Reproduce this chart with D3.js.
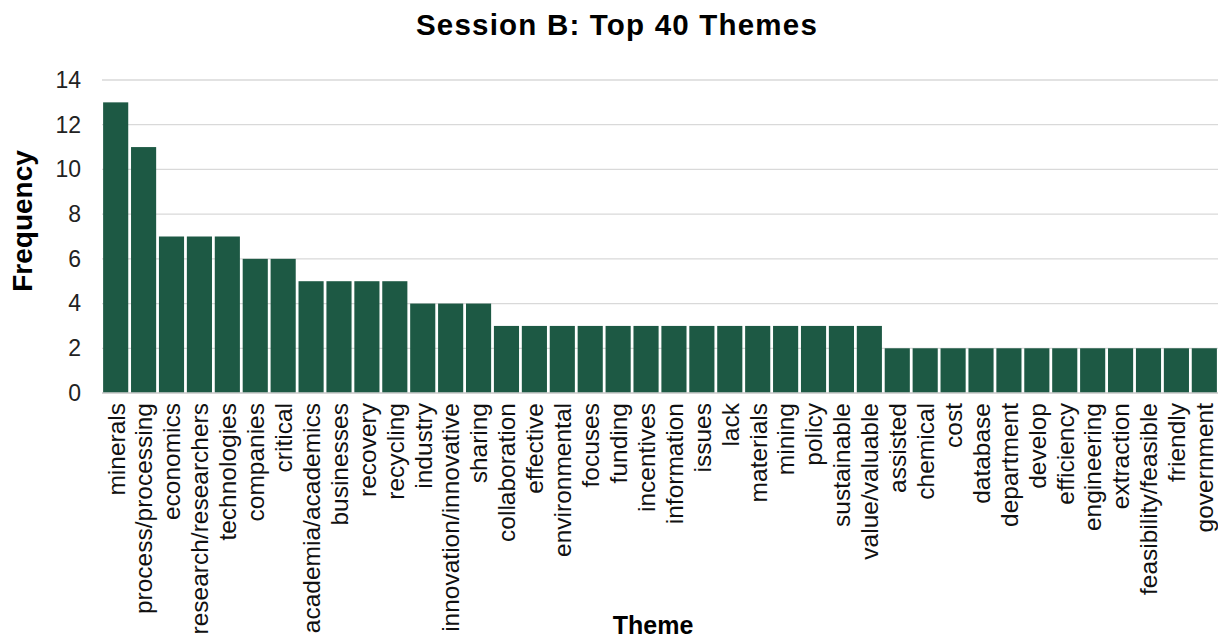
<!DOCTYPE html>
<html>
<head>
<meta charset="utf-8">
<script src="https://cdn.jsdelivr.net/npm/d3@7"></script>
<style>
  html, body { margin: 0; padding: 0; background: #fff; }
  svg { display: block; font-family: "Liberation Sans", Arial, sans-serif; }
</style>
</head>
<body>
<svg id="chart" width="1218" height="640"></svg>
<script>
// Theme names in ranked order
const themes = [
  "minerals", "process/processing", "economics", "research/researchers", "technologies",
  "companies", "critical", "academia/academics", "businesses", "recovery",
  "recycling", "industry", "innovation/innovative", "sharing", "collaboration",
  "effective", "environmental", "focuses", "funding", "incentives",
  "information", "issues", "lack", "materials", "mining",
  "policy", "sustainable", "value/valuable", "assisted", "chemical",
  "cost", "database", "department", "develop", "efficiency",
  "engineering", "extraction", "feasibility/feasible", "friendly", "government"
];

// How often each theme came up
const frequencies = [
  13, 11, 7, 7, 7,
  6, 6, 5, 5, 5,
  5, 4, 4, 4, 3,
  3, 3, 3, 3, 3,
  3, 3, 3, 3, 3,
  3, 3, 3, 2, 2,
  2, 2, 2, 2, 2,
  2, 2, 2, 2, 2
];

const yTicks = [0, 2, 4, 6, 8, 10, 12, 14];

const data = themes.map((t, i) => ({ theme: t, value: frequencies[i] }));

const svg = d3.select("#chart");
const plotLeft = 102, plotRight = 1218, plotTop = 80, plotBottom = 393;

const x = d3.scaleBand()
  .domain(themes)
  .range([plotLeft, plotRight])
  .paddingInner(0.1)
  .paddingOuter(0.04);

const y = d3.scaleLinear()
  .domain([0, 14])
  .range([plotBottom, plotTop]);

// Horizontal gridlines
svg.append("g")
  .selectAll("line")
  .data(yTicks)
  .join("line")
  .attr("x1", plotLeft)
  .attr("x2", plotRight)
  .attr("y1", d => y(d))
  .attr("y2", d => y(d))
  .attr("stroke", "#d9d9d9")
  .attr("stroke-width", 1.3);

// Bars
svg.append("g")
  .selectAll("rect")
  .data(data)
  .join("rect")
  .attr("x", d => x(d.theme))
  .attr("width", x.bandwidth())
  .attr("y", d => y(d.value))
  .attr("height", d => y(0) - y(d.value))
  .attr("fill", "#1d5944");

// Baseline
svg.append("line")
  .attr("x1", plotLeft)
  .attr("x2", plotRight)
  .attr("y1", y(0))
  .attr("y2", y(0))
  .attr("stroke", "#d0d0d0")
  .attr("stroke-width", 1.5);

// Y axis labels
const yAxis = d3.axisLeft(y).tickValues(yTicks).tickSize(0).tickPadding(0);
const yg = svg.append("g")
  .attr("transform", `translate(81,0)`)
  .call(yAxis);
yg.select(".domain").remove();
yg.selectAll("text")
  .attr("font-size", 23)
  .attr("fill", "#222")
  .attr("font-family", "Liberation Sans, Arial, sans-serif");

// X axis category labels, rotated
const xAxis = d3.axisBottom(x).tickSize(0).tickPadding(0);
const xg = svg.append("g")
  .attr("transform", `translate(0,${plotBottom})`)
  .call(xAxis);
xg.select(".domain").remove();
xg.selectAll("text")
  .attr("font-size", 24.5)
  .attr("fill", "#111")
  .attr("font-family", "Liberation Sans, Arial, sans-serif")
  .attr("text-anchor", "end")
  .attr("transform", "rotate(-90)")
  .attr("x", -10)
  .attr("y", 0)
  .attr("dy", "0.36em");

// Title
svg.append("text")
  .attr("x", 617)
  .attr("y", 35)
  .attr("text-anchor", "middle")
  .attr("font-size", 29.5)
  .attr("font-weight", "bold")
  .attr("letter-spacing", 1.2)
  .attr("fill", "#000")
  .text("Session B: Top 40 Themes");

// Axis titles
svg.append("text")
  .attr("transform", "translate(32,221) rotate(-90)")
  .attr("text-anchor", "middle")
  .attr("font-size", 28)
  .attr("font-weight", "bold")
  .attr("fill", "#000")
  .text("Frequency");

svg.append("text")
  .attr("x", 653)
  .attr("y", 634)
  .attr("text-anchor", "middle")
  .attr("font-size", 25)
  .attr("font-weight", "bold")
  .attr("fill", "#000")
  .text("Theme");
</script>
</body>
</html>
